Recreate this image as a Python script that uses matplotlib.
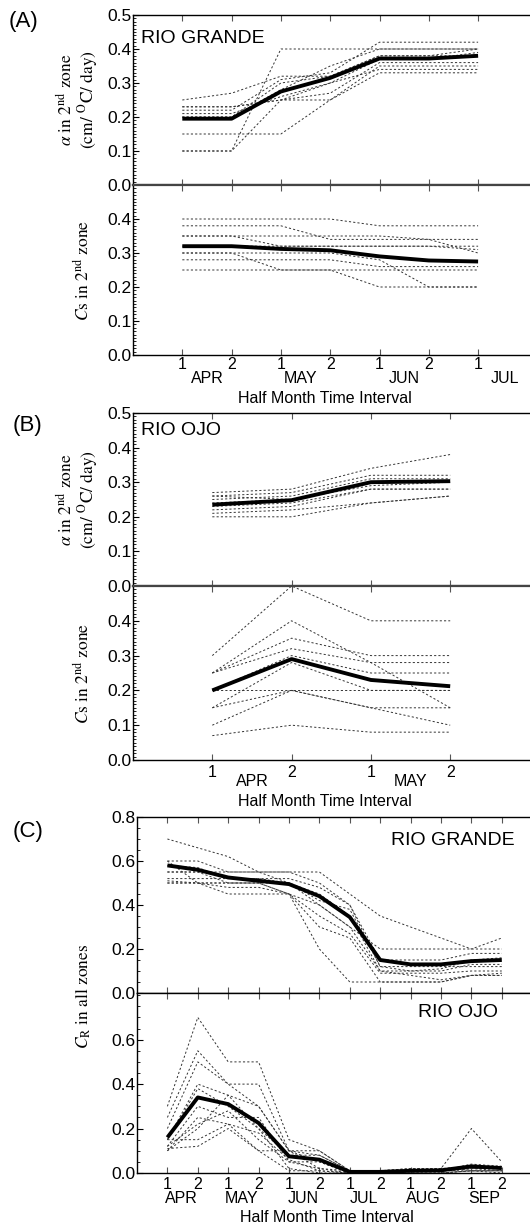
import matplotlib.pyplot as plt
from matplotlib.ticker import MultipleLocator, FixedLocator
from matplotlib.transforms import blended_transform_factory

plt.rcParams['font.family'] = ['Liberation Sans', 'DejaVu Sans']
plt.rcParams['mathtext.fontset'] = 'stix'

# (A) Rio Grande, half-month steps Apr-1 .. Jul-1
grande_steps = [1, 2, 3, 4, 5, 6, 7]
grande_step_labels = ['1', '2', '1', '2', '1', '2', '1']
grande_months = ['APR', 'MAY', 'JUN', 'JUL']
grande_alpha_mean = [0.195, 0.195, 0.275, 0.315, 0.372, 0.372, 0.38]
grande_alpha_runs = [
    [0.10, 0.10, 0.40, 0.40, 0.40, 0.40, 0.40],
    [0.25, 0.27, 0.32, 0.32, 0.38, 0.38, 0.38],
    [0.23, 0.23, 0.25, 0.25, 0.33, 0.33, 0.33],
    [0.15, 0.15, 0.15, 0.25, 0.35, 0.35, 0.35],
    [0.22, 0.22, 0.31, 0.33, 0.42, 0.42, 0.42],
    [0.20, 0.20, 0.30, 0.32, 0.38, 0.38, 0.40],
    [0.21, 0.21, 0.26, 0.30, 0.34, 0.34, 0.34],
    [0.20, 0.20, 0.28, 0.35, 0.40, 0.40, 0.40],
    [0.10, 0.10, 0.25, 0.30, 0.37, 0.37, 0.39],
    [0.23, 0.23, 0.25, 0.27, 0.36, 0.36, 0.36],
]
grande_cs_mean = [0.32, 0.32, 0.312, 0.308, 0.29, 0.278, 0.275]
grande_cs_runs = [
    [0.40, 0.40, 0.40, 0.40, 0.38, 0.38, 0.38],
    [0.38, 0.38, 0.38, 0.34, 0.34, 0.34, 0.34],
    [0.35, 0.35, 0.32, 0.32, 0.32, 0.32, 0.32],
    [0.30, 0.30, 0.30, 0.30, 0.28, 0.20, 0.20],
    [0.28, 0.28, 0.28, 0.28, 0.26, 0.26, 0.26],
    [0.25, 0.25, 0.25, 0.25, 0.20, 0.20, 0.20],
    [0.30, 0.30, 0.25, 0.25, 0.25, 0.25, 0.25],
    [0.35, 0.35, 0.35, 0.35, 0.35, 0.34, 0.30],
    [0.32, 0.32, 0.32, 0.32, 0.32, 0.32, 0.31],
]

# (B) Rio Ojo, Apr-1 .. May-2
ojo_steps = [1, 2, 3, 4]
ojo_step_labels = ['1', '2', '1', '2']
ojo_months = ['APR', 'MAY']
ojo_alpha_mean = [0.235, 0.248, 0.30, 0.303]
ojo_alpha_runs = [
    [0.27, 0.28, 0.34, 0.38],
    [0.26, 0.27, 0.32, 0.32],
    [0.25, 0.26, 0.31, 0.31],
    [0.24, 0.25, 0.30, 0.30],
    [0.23, 0.24, 0.28, 0.28],
    [0.22, 0.23, 0.28, 0.28],
    [0.21, 0.22, 0.24, 0.26],
    [0.20, 0.20, 0.24, 0.26],
    [0.26, 0.25, 0.29, 0.30],
]
ojo_cs_mean = [0.20, 0.29, 0.23, 0.212]
ojo_cs_runs = [
    [0.30, 0.50, 0.40, 0.40],
    [0.25, 0.40, 0.28, 0.15],
    [0.25, 0.35, 0.30, 0.30],
    [0.25, 0.32, 0.28, 0.28],
    [0.20, 0.30, 0.25, 0.25],
    [0.20, 0.20, 0.20, 0.20],
    [0.15, 0.20, 0.15, 0.15],
    [0.10, 0.20, 0.15, 0.10],
    [0.07, 0.10, 0.08, 0.08],
    [0.15, 0.28, 0.20, 0.20],
]

# (C) C_R over the whole season, Apr-1 .. Sep-2
season_steps = list(range(1, 13))
season_step_labels = ['1', '2'] * 6
season_months = ['APR', 'MAY', 'JUN', 'JUL', 'AUG', 'SEP']
cr_grande_mean = [0.58, 0.56, 0.525, 0.51, 0.495, 0.44, 0.345, 0.15, 0.13, 0.13, 0.145, 0.15]
cr_grande_runs = [
    [0.70, 0.66, 0.62, 0.55, 0.50, 0.40, 0.30, 0.20, 0.20, 0.20, 0.20, 0.20],
    [0.60, 0.60, 0.55, 0.55, 0.55, 0.55, 0.45, 0.35, 0.30, 0.25, 0.20, 0.25],
    [0.55, 0.55, 0.55, 0.55, 0.55, 0.50, 0.40, 0.15, 0.15, 0.15, 0.18, 0.18],
    [0.52, 0.52, 0.52, 0.52, 0.52, 0.48, 0.40, 0.12, 0.12, 0.12, 0.12, 0.12],
    [0.51, 0.50, 0.50, 0.50, 0.50, 0.45, 0.35, 0.10, 0.10, 0.10, 0.13, 0.13],
    [0.50, 0.50, 0.45, 0.45, 0.45, 0.30, 0.25, 0.05, 0.05, 0.05, 0.08, 0.08],
    [0.50, 0.50, 0.50, 0.50, 0.45, 0.40, 0.30, 0.10, 0.08, 0.06, 0.08, 0.09],
    [0.60, 0.50, 0.48, 0.48, 0.45, 0.35, 0.27, 0.09, 0.09, 0.09, 0.10, 0.10],
    [0.55, 0.55, 0.50, 0.50, 0.45, 0.20, 0.05, 0.05, 0.05, 0.05, 0.08, 0.08],
    [0.58, 0.57, 0.52, 0.52, 0.50, 0.42, 0.38, 0.12, 0.10, 0.11, 0.15, 0.16],
]
cr_ojo_mean = [0.16, 0.34, 0.31, 0.225, 0.075, 0.06, 0.005, 0.005, 0.01, 0.012, 0.03, 0.022]
cr_ojo_runs = [
    [0.30, 0.70, 0.50, 0.50, 0.15, 0.10, 0.01, 0.01, 0.02, 0.02, 0.20, 0.05],
    [0.25, 0.55, 0.40, 0.40, 0.10, 0.08, 0.01, 0.01, 0.02, 0.02, 0.03, 0.03],
    [0.20, 0.50, 0.40, 0.30, 0.10, 0.10, 0.01, 0.01, 0.01, 0.01, 0.02, 0.02],
    [0.15, 0.40, 0.35, 0.30, 0.10, 0.05, 0.00, 0.00, 0.01, 0.01, 0.04, 0.03],
    [0.15, 0.38, 0.30, 0.20, 0.08, 0.08, 0.01, 0.01, 0.01, 0.01, 0.02, 0.02],
    [0.12, 0.30, 0.25, 0.25, 0.05, 0.05, 0.00, 0.00, 0.00, 0.00, 0.01, 0.01],
    [0.12, 0.22, 0.28, 0.15, 0.05, 0.02, 0.00, 0.00, 0.01, 0.01, 0.02, 0.01],
    [0.10, 0.25, 0.22, 0.18, 0.06, 0.01, 0.00, 0.00, 0.00, 0.00, 0.01, 0.00],
    [0.11, 0.12, 0.20, 0.10, 0.10, 0.02, 0.01, 0.01, 0.01, 0.01, 0.02, 0.02],
    [0.15, 0.15, 0.22, 0.10, 0.01, 0.01, 0.00, 0.00, 0.00, 0.00, 0.01, 0.01],
    [0.10, 0.20, 0.35, 0.20, 0.02, 0.00, 0.00, 0.00, 0.01, 0.01, 0.01, 0.01],
]

W, H = 530, 1228
fig = plt.figure(figsize=(W / 100, H / 100), dpi=100)


def box(left, top, bottom, right=537):
    # pixel box -> figure fraction
    return [left / W, 1 - bottom / H, (right - left) / W, (bottom - top) / H]


def draw_runs(ax, x, runs, mean):
    for r in runs:
        ax.plot(x, r, color='#333333', lw=0.7, ls=(0, (2.2, 2.2)))
    ax.plot(x, mean, color='black', lw=2.8, solid_capstyle='butt')


def style(ax, xlim, xticks, ymax, major, minor, labels, zero_color, is_top):
    ax.set_xlim(*xlim)
    ax.set_ylim(0, ymax)
    ax.spines['right'].set_visible(False)
    ax.xaxis.set_major_locator(FixedLocator(xticks))
    ax.tick_params(axis='x', which='both', direction='in', length=4,
                   top=True, bottom=True, labelbottom=False, color='#555555')
    ax.yaxis.set_major_locator(FixedLocator([i * major for i in range(len(labels))]))
    ax.set_yticklabels(labels)
    ax.yaxis.set_minor_locator(MultipleLocator(minor))
    ax.tick_params(axis='y', which='major', direction='in', length=4, pad=1, labelsize=12.5)
    ax.tick_params(axis='y', which='minor', direction='in', length=2)
    zero = 'bottom' if is_top else 'top'
    for s in ['left', 'bottom', 'top']:
        ax.spines[s].set_linewidth(1.0)
    ax.spines[zero].set_color(zero_color)
    ax.spines[zero].set_linewidth(1.6)


def xlabels(ax, steps, step_labels, months, month_pos, y_num, y_mon, y_lab):
    tr = blended_transform_factory(ax.transData, fig.transFigure)
    for x, t in zip(steps, step_labels):
        ax.text(x, 1 - y_num / H, t, transform=tr, ha='center', va='baseline', fontsize=11.5)
    for x, t in zip(month_pos, months):
        ax.text(x, 1 - y_mon / H, t, transform=tr, ha='center', va='baseline', fontsize=11.5)
    x0 = ax.get_position().x0
    fig.text(x0 + 0.47 * (1.02 - x0), 1 - y_lab / H, 'Half Month Time Interval',
             ha='center', va='baseline', fontsize=11.5)


alpha_l1 = r'$\mathit{\alpha}$ in 2$^{\rm nd}$ zone'
alpha_l2 = r'(cm/ $^{\rm O}$C/ day)'
cs_lab = r'$\mathit{C}$s in 2$^{\rm nd}$ zone'
cr_lab = r'$\mathit{C}_{\rm R}$ in all zones'
serif = dict(family='STIXGeneral', fontsize=12.5, rotation=90, ha='center', va='center')

ab_labels_top = ['0.0', '0.1', '0.2', '0.3', '0.4', '0.5']
ab_labels_bot = ['0.0', '0.1', '0.2', '0.3', '0.4']

# ---- panel A
axA1 = fig.add_axes(box(133, 15, 185))
axA2 = fig.add_axes(box(133, 185, 355))
xlimA = (0, (537 - 133) / 49.3)
draw_runs(axA1, grande_steps, grande_alpha_runs, grande_alpha_mean)
draw_runs(axA2, grande_steps, grande_cs_runs, grande_cs_mean)
style(axA1, xlimA, grande_steps, 0.5, 0.1, 0.01, ab_labels_top, '#444444', True)
style(axA2, xlimA, grande_steps, 0.5, 0.1, 0.01, ab_labels_bot, '#444444', False)
xlabels(axA2, grande_steps, grande_step_labels, grande_months, [1.5, 3.4, 5.5, 7.55], 369, 383, 403)
axA1.text(0.02, 1 - 28 / 170, 'RIO GRANDE', transform=axA1.transAxes, fontsize=14, va='baseline')
fig.text(66 / W, 1 - 100 / H, alpha_l1, **serif)
fig.text(88 / W, 1 - 100 / H, alpha_l2, **serif)
fig.text(83 / W, 1 - 270 / H, cs_lab, **serif)
fig.text(24 / W, 1 - 21 / H, '(A)', fontsize=16, ha='center', va='center')

# ---- panel B
axB1 = fig.add_axes(box(133, 413, 586))
axB2 = fig.add_axes(box(133, 586, 760))
xlimB = (0, (537 - 133) / 79.3)
draw_runs(axB1, ojo_steps, ojo_alpha_runs, ojo_alpha_mean)
draw_runs(axB2, ojo_steps, ojo_cs_runs, ojo_cs_mean)
style(axB1, xlimB, ojo_steps, 0.5, 0.1, 0.01, ab_labels_top, '#444444', True)
style(axB2, xlimB, ojo_steps, 0.5, 0.1, 0.01, ab_labels_bot, '#444444', False)
xlabels(axB2, ojo_steps, ojo_step_labels, ojo_months, [1.5, 3.5], 777, 786, 806)
axB1.text(0.02, 1 - 22 / 173, 'RIO OJO', transform=axB1.transAxes, fontsize=14, va='baseline')
fig.text(66 / W, 1 - 500 / H, alpha_l1, **serif)
fig.text(88 / W, 1 - 500 / H, alpha_l2, **serif)
fig.text(83 / W, 1 - 673 / H, cs_lab, **serif)
fig.text(27 / W, 1 - 426 / H, '(B)', fontsize=16, ha='center', va='center')

# ---- panel C
axC1 = fig.add_axes(box(137, 817, 993))
axC2 = fig.add_axes(box(137, 993, 1173))
xlimC = (0, (537 - 137) / 30.4)
draw_runs(axC1, season_steps, cr_grande_runs, cr_grande_mean)
draw_runs(axC2, season_steps, cr_ojo_runs, cr_ojo_mean)
style(axC1, xlimC, season_steps, 0.8, 0.2, 0.05, ['0.0', '0.2', '0.4', '0.6', '0.8'], 'black', True)
style(axC2, xlimC, season_steps, 0.81, 0.2, 0.05, ['0.0', '0.2', '0.4', '0.6'], 'black', False)
axC1.spines['bottom'].set_linewidth(1.0)
axC2.spines['top'].set_linewidth(1.0)
xlabels(axC2, season_steps, season_step_labels, season_months,
        [1.45, 3.45, 5.47, 7.47, 9.42, 11.42], 1189, 1203, 1222)
fig.text(515 / W, 1 - 845 / H, 'RIO GRANDE', fontsize=14, ha='right', va='baseline')
fig.text(498 / W, 1 - 1017 / H, 'RIO OJO', fontsize=14, ha='right', va='baseline')
fig.text(83 / W, 1 - 996 / H, cr_lab, **serif)
fig.text(28 / W, 1 - 831 / H, '(C)', fontsize=16, ha='center', va='center')

fig.savefig('out.png', dpi=100)
